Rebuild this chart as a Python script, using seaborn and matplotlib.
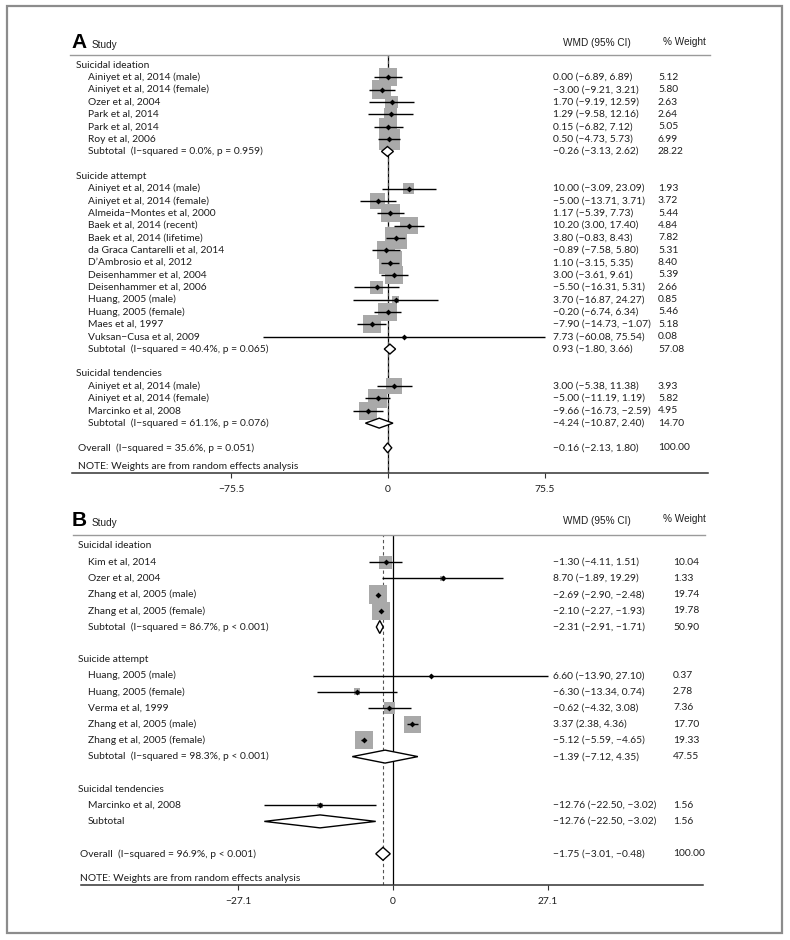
import numpy as np
import matplotlib
matplotlib.use("Agg")
import matplotlib.pyplot as plt
import seaborn as sns
from matplotlib.patches import Polygon, Rectangle

# ---------------- Panel A data ----------------
a_groups = ["Suicidal ideation", "Suicide attempt", "Suicidal tendencies"]
a_group_of = [0, 0, 0, 0, 0, 0,
              1, 1, 1, 1, 1, 1, 1, 1, 1, 1, 1, 1, 1,
              2, 2, 2]
a_studies = [
    "Ainiyet et al, 2014 (male)", "Ainiyet et al, 2014 (female)", "Ozer et al, 2004",
    "Park et al, 2014", "Park et al, 2014", "Roy et al, 2006",
    "Ainiyet et al, 2014 (male)", "Ainiyet et al, 2014 (female)", "Almeida\u2212Montes et al, 2000",
    "Baek et al, 2014 (recent)", "Baek et al, 2014 (lifetime)", "da Graca Cantarelli et al, 2014",
    "D\u2019Ambrosio et al, 2012", "Deisenhammer et al, 2004", "Deisenhammer et al, 2006",
    "Huang, 2005 (male)", "Huang, 2005 (female)", "Maes et al, 1997", "Vuksan\u2212Cusa et al, 2009",
    "Ainiyet et al, 2014 (male)", "Ainiyet et al, 2014 (female)", "Marcinko et al, 2008",
]
a_wmd = [0.00, -3.00, 1.70, 1.29, 0.15, 0.50,
         10.00, -5.00, 1.17, 10.20, 3.80, -0.89, 1.10, 3.00, -5.50, 3.70, -0.20, -7.90, 7.73,
         3.00, -5.00, -9.66]
a_lo = [-6.89, -9.21, -9.19, -9.58, -6.82, -4.73,
        -3.09, -13.71, -5.39, 3.00, -0.83, -7.58, -3.15, -3.61, -16.31, -16.87, -6.74, -14.73, -60.08,
        -5.38, -11.19, -16.73]
a_hi = [6.89, 3.21, 12.59, 12.16, 7.12, 5.73,
        23.09, 3.71, 7.73, 17.40, 8.43, 5.80, 5.35, 9.61, 5.31, 24.27, 6.34, -1.07, 75.54,
        11.38, 1.19, -2.59]
a_weight = [5.12, 5.80, 2.63, 2.64, 5.05, 6.99,
            1.93, 3.72, 5.44, 4.84, 7.82, 5.31, 8.40, 5.39, 2.66, 0.85, 5.46, 5.18, 0.08,
            3.93, 5.82, 4.95]
a_sub_text = ["Subtotal  (I\u2212squared = 0.0%, p = 0.959)",
              "Subtotal  (I\u2212squared = 40.4%, p = 0.065)",
              "Subtotal  (I\u2212squared = 61.1%, p = 0.076)"]
a_sub_wmd = [-0.26, 0.93, -4.24]
a_sub_lo = [-3.13, -1.80, -10.87]
a_sub_hi = [2.62, 3.66, 2.40]
a_sub_weight = [28.22, 57.08, 14.70]
a_overall_text = "Overall  (I\u2212squared = 35.6%, p = 0.051)"
a_overall = [-0.16, -2.13, 1.80, 100.00]
a_ticks = [-75.5, 0, 75.5]

# ---------------- Panel B data ----------------
b_groups = ["Suicidal ideation", "Suicide attempt", "Suicidal tendencies"]
b_group_of = [0, 0, 0, 0, 1, 1, 1, 1, 1, 2]
b_studies = [
    "Kim et al, 2014", "Ozer et al, 2004", "Zhang et al, 2005 (male)", "Zhang et al, 2005 (female)",
    "Huang, 2005 (male)", "Huang, 2005 (female)", "Verma et al, 1999",
    "Zhang et al, 2005 (male)", "Zhang et al, 2005 (female)",
    "Marcinko et al, 2008",
]
b_wmd = [-1.30, 8.70, -2.69, -2.10, 6.60, -6.30, -0.62, 3.37, -5.12, -12.76]
b_lo = [-4.11, -1.89, -2.90, -2.27, -13.90, -13.34, -4.32, 2.38, -5.59, -22.50]
b_hi = [1.51, 19.29, -2.48, -1.93, 27.10, 0.74, 3.08, 4.36, -4.65, -3.02]
b_weight = [10.04, 1.33, 19.74, 19.78, 0.37, 2.78, 7.36, 17.70, 19.33, 1.56]
b_sub_text = ["Subtotal  (I\u2212squared = 86.7%, p < 0.001)",
              "Subtotal  (I\u2212squared = 98.3%, p < 0.001)",
              "Subtotal"]
b_sub_wmd = [-2.31, -1.39, -12.76]
b_sub_lo = [-2.91, -7.12, -22.50]
b_sub_hi = [-1.71, 4.35, -3.02]
b_sub_weight = [50.90, 47.55, 1.56]
b_overall_text = "Overall  (I\u2212squared = 96.9%, p < 0.001)"
b_overall = [-1.75, -3.01, -0.48, 100.00]
b_ticks = [-27.1, 0, 27.1]

note_text = "NOTE: Weights are from random effects analysis"

W, H = 790, 940
sns.set_theme(style="white")
plt.rcParams["font.family"] = ["Lato", "DejaVu Sans"]
TXT = 7.4
HDR_FONT = ["Liberation Sans", "DejaVu Sans"]
BOX_GRAY = "#a9a9a9"
INK = "#1e1e1e"


def fmt(v):
    return f"{v:.2f}".replace("-", "\u2212")


def ci_text(e, l, h):
    return f"{fmt(e)} ({fmt(l)}, {fmt(h)})"


def draw_panel(letter, groups, group_of, studies, wmd, lo, hi, weight,
               sub_text, sub_wmd, sub_lo, sub_hi, sub_weight,
               overall_text, overall, ticks, lay):
    box = lay["box"]
    ax = fig.add_axes([box[0] / W, 1 - box[3] / H, (box[2] - box[0]) / W, (box[3] - box[1]) / H])
    zero, scale, row0, sp = lay["zero"], lay["scale"], lay["row0"], lay["sp"]
    px2x = lambda p: (p - zero) / scale
    py2r = lambda p: (p - row0) / sp
    ax.set_xlim(px2x(box[0]), px2x(box[2]))
    ax.set_ylim(py2r(box[3]), py2r(box[1]))

    # row layout: heading, studies, subtotal, blank line per group
    rows, sub_rows, group_rows = [], [], []
    r = 0
    for g in range(len(groups)):
        group_rows.append(r)
        r += 1
        for gi in group_of:
            if gi == g:
                rows.append(r)
                r += 1
        sub_rows.append(r)
        r += 2
    overall_row = r
    note_row = r + 1.5

    xg, xs, xo = px2x(lay["x_group"]), px2x(lay["x_study"]), px2x(lay["x_overall"])
    xci, xw = px2x(lay["x_ci"]), px2x(lay["x_w"])
    kw = dict(fontsize=TXT, va="center", ha="left", color=INK, clip_on=False)

    for g, gr in enumerate(group_rows):
        ax.text(xg, gr, groups[g], **kw)
    for i, rr in enumerate(rows):
        ax.text(xs, rr, studies[i], **kw)
        ax.text(xci, rr, ci_text(wmd[i], lo[i], hi[i]), **kw)
        ax.text(xw, rr, f"{weight[i]:.2f}", **kw)
    for g, sr in enumerate(sub_rows):
        ax.text(xs, sr, sub_text[g], **kw)
        ax.text(xci, sr, ci_text(sub_wmd[g], sub_lo[g], sub_hi[g]), **kw)
        ax.text(xw, sr, f"{sub_weight[g]:.2f}", **kw)
    ax.text(xo, overall_row, overall_text, **kw)
    ax.text(xci, overall_row, ci_text(*overall[:3]), **kw)
    ax.text(xw, overall_row, f"{overall[3]:.2f}", **kw)
    ax.text(px2x(lay["x_note"]), note_row, note_text, **kw)

    # header
    hy = py2r(lay["hdr_y"])
    ax.text(px2x(lay["x_letter"]), hy, letter, fontsize=15, fontweight="bold",
            family=HDR_FONT, va="center", ha="left", color="black", clip_on=False)
    hkw = dict(fontsize=7.2, family=HDR_FONT, va="center", ha="left", color=INK, clip_on=False)
    ax.text(px2x(lay["x_study_hdr"]), hy + 0.15, "Study", **hkw)
    ax.text(px2x(lay["x_wmd_hdr"]), hy, "WMD (95% CI)", **hkw)
    ax.text(px2x(lay["x_w_hdr"]), hy - 0.1, "% Weight", **hkw)

    # reference lines
    ax.axvline(0, color="black", lw=0.9, zorder=1)
    ax.axvline(overall[0], color="#555555", lw=0.8, ls=(0, (3, 2.5)), zorder=1)

    # study boxes, CIs and point estimates
    sizes = [(lay["k"] * np.sqrt(w) * 0.72) ** 2 for w in weight]
    sns.scatterplot(x=wmd, y=rows, s=sizes, marker="s", color=BOX_GRAY,
                    linewidth=0, ax=ax, zorder=2, legend=False)
    ax.hlines(rows, lo, hi, color="black", lw=1.0, zorder=3)
    sns.scatterplot(x=wmd, y=rows, s=9, marker="D", color="black",
                    linewidth=0, ax=ax, zorder=4, legend=False)

    # diamonds for subtotals and overall
    hh = 0.4
    for e, l, h, rr in zip(sub_wmd + [overall[0]], sub_lo + [overall[1]],
                           sub_hi + [overall[2]], sub_rows + [overall_row]):
        ax.add_patch(Polygon([(l, rr), (e, rr - hh), (h, rr), (e, rr + hh)], closed=True,
                             facecolor="white", edgecolor="black", lw=1.0, zorder=5))

    # axes styling
    for s in ["left", "right"]:
        ax.spines[s].set_visible(False)
    ax.spines["top"].set_color("#9a9a9a")
    ax.spines["top"].set_linewidth(1.0)
    ax.spines["bottom"].set_color("#333333")
    ax.spines["bottom"].set_linewidth(1.1)
    ax.spines["bottom"].set_bounds(px2x(lay["axis_x0"]), px2x(lay["axis_x1"]))
    ax.set_yticks([])
    ax.set_xticks(ticks)
    ax.set_xticklabels([("0" if t == 0 else f"{t:.1f}".replace("-", "\u2212")) for t in ticks])
    ax.tick_params(axis="x", bottom=True, direction="out", length=3.5, width=0.8,
                   color="#333333", pad=5, labelsize=TXT, labelcolor=INK)
    ax.set_xlabel("")
    ax.set_ylabel("")
    return ax


fig = plt.figure(figsize=(7.9, 9.4), dpi=100)

lay_a = dict(box=(70, 55, 710, 473), zero=388, scale=2.075, row0=65, sp=12.35,
             x_group=76, x_study=88, x_overall=78, x_note=78, x_ci=553, x_w=658,
             hdr_y=43, x_letter=71, x_study_hdr=92, x_wmd_hdr=563, x_w_hdr=663,
             k=7.95, axis_x0=72, axis_x1=708)
lay_b = dict(box=(73, 535, 705, 885), zero=393, scale=5.72, row0=546, sp=16.2,
             x_group=78, x_study=88, x_overall=80, x_note=80, x_ci=553, x_w=673,
             hdr_y=521, x_letter=72, x_study_hdr=92, x_wmd_hdr=563, x_w_hdr=663,
             k=4.1, axis_x0=81, axis_x1=703)

draw_panel("A", a_groups, a_group_of, a_studies, a_wmd, a_lo, a_hi, a_weight,
           a_sub_text, a_sub_wmd, a_sub_lo, a_sub_hi, a_sub_weight,
           a_overall_text, a_overall, a_ticks, lay_a)
draw_panel("B", b_groups, b_group_of, b_studies, b_wmd, b_lo, b_hi, b_weight,
           b_sub_text, b_sub_wmd, b_sub_lo, b_sub_hi, b_sub_weight,
           b_overall_text, b_overall, b_ticks, lay_b)

# outer frame
fig.add_artist(Rectangle((7 / W, 1 - 933 / H), 775 / W, 927 / H, transform=fig.transFigure,
                         fill=False, edgecolor="#8c8c8c", lw=1.6))

fig.savefig("out.png", dpi=100)
